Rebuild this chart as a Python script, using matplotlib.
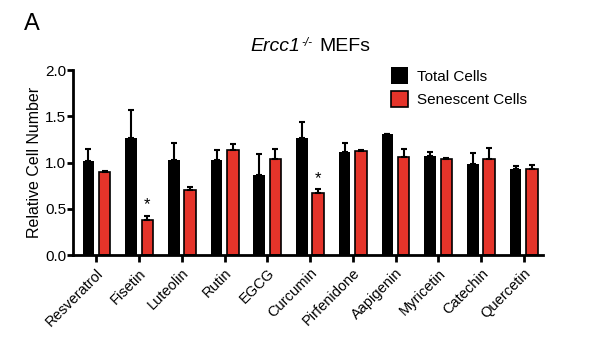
import matplotlib
matplotlib.use('Agg')
import matplotlib.pyplot as plt
from matplotlib.text import Annotation
import numpy as np

plt.rcParams['font.family'] = ['Liberation Sans', 'DejaVu Sans']

compounds = ['Resveratrol', 'Fisetin', 'Luteolin', 'Rutin', 'EGCG', 'Curcumin',
             'Pirfenidone', 'Aapigenin', 'Myricetin', 'Catechin', 'Quercetin']
total = [1.02, 1.27, 1.03, 1.03, 0.87, 1.26, 1.11, 1.31, 1.07, 0.98, 0.93]
total_err = [0.13, 0.30, 0.18, 0.11, 0.22, 0.18, 0.10, 0.0, 0.04, 0.12, 0.03]
senescent = [0.90, 0.38, 0.70, 1.13, 1.04, 0.67, 1.12, 1.06, 1.04, 1.04, 0.93]
senescent_err = [0.01, 0.04, 0.04, 0.07, 0.11, 0.04, 0.02, 0.09, 0.01, 0.12, 0.04]
stars = ['Fisetin', 'Curcumin']

fig = plt.figure(figsize=(5.98, 3.51), dpi=100)
ax = fig.add_axes([0.122, 0.2735, 0.786, 0.527])

x = np.arange(len(compounds))
w = 0.27
off = 0.19
red = '#e5342a'
z = np.zeros(len(x))
ax.bar(x - off, total, w, color='black', label='Total Cells',
       yerr=[z, total_err], capsize=2.5,
       error_kw=dict(elinewidth=1.5, capthick=1.5, ecolor='black'))
ax.bar(x + off, senescent, w, color=red, edgecolor='black', linewidth=1.2,
       label='Senescent Cells', yerr=[z, senescent_err], capsize=2.5,
       error_kw=dict(elinewidth=1.5, capthick=1.5, ecolor='black'))

for name in stars:
    i = compounds.index(name)
    ax.text(x[i] + off, senescent[i] + senescent_err[i] + 0.04, '*',
            ha='center', va='bottom', fontsize=12)

ax.set_xlim(-0.55, 10.45)
ax.set_ylim(0, 2.0)
ax.set_yticks([0, 0.5, 1.0, 1.5, 2.0])
ax.set_yticklabels(['0.0', '0.5', '1.0', '1.5', '2.0'], fontsize=11)
ax.set_xticks(x)
ax.set_xticklabels(compounds, rotation=45, ha='right', rotation_mode='anchor', fontsize=10.5)
ax.tick_params(axis='both', direction='out', width=2, length=4, pad=1)
ax.tick_params(axis='x', length=5, pad=3)
for s in ['top', 'right']:
    ax.spines[s].set_visible(False)
for s in ['left', 'bottom']:
    ax.spines[s].set_linewidth(2)
ax.set_ylabel('Relative Cell Number', fontsize=11.5, labelpad=2)

ax.legend(loc='upper right', bbox_to_anchor=(0.995, 1.09), frameon=False,
          fontsize=11, handlelength=1.1, handleheight=1.3, labelspacing=0.45,
          handletextpad=0.6)

# title in pieces: italic gene name, small superscript, plain text
t1 = fig.text(0.418, 0.855, 'Ercc1', style='italic', fontsize=14, va='baseline')
fig.add_artist(Annotation('-/-', xy=(1, 1), xycoords=t1, xytext=(1, -6),
                          textcoords='offset points', va='baseline', ha='left',
                          fontsize=8.5, style='italic'))
fig.add_artist(Annotation('MEFs', xy=(1, 0), xycoords=t1, xytext=(14, 0),
                          textcoords='offset points', va='bottom', ha='left',
                          fontsize=14))
fig.text(0.04, 0.915, 'A', fontsize=17)

fig.savefig('out.png', dpi=100)
